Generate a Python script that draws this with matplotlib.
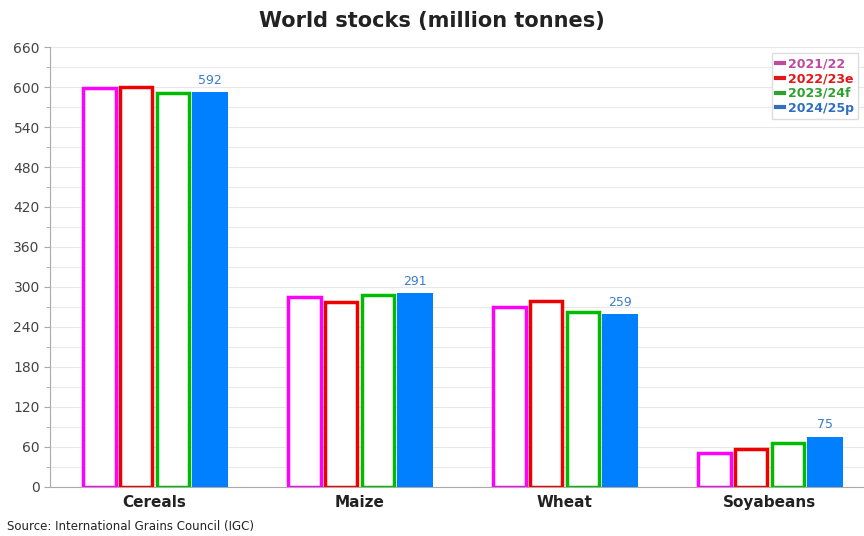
import matplotlib.pyplot as plt
import numpy as np
from matplotlib.lines import Line2D

# World stocks data (million tonnes)
categories = ['Cereals', 'Maize', 'Wheat', 'Soyabeans']
seasons = ['2021/22', '2022/23e', '2023/24f', '2024/25p']
s2122 = [598, 285, 270, 50]
s2223 = [600, 277, 279, 57]
s2324 = [591, 288, 262, 66]
s2425 = [592, 291, 259, 75]

edge_colors = ['#ff00ff', '#ee0000', '#00bb00', '#0080ff']
legend_colors = ['#c04a9c', '#e01818', '#2ea02e', '#2f6fc0']

fig = plt.figure(figsize=(8.64, 5.36), dpi=100)
ax = fig.add_axes([0.058, 0.092, 0.942, 0.82])

x = np.arange(len(categories))
w = 0.18
series = [s2122, s2223, s2324, s2425]
for i, vals in enumerate(series):
    pos = x + (i - 1.5) * w
    if i < 3:
        ax.bar(pos, vals, width=w * 0.88, facecolor='white', edgecolor=edge_colors[i],
               linewidth=2.5, zorder=3)
    else:
        bars = ax.bar(pos, vals, width=w * 0.97, color=edge_colors[i], zorder=3)
        for b, v in zip(bars, vals):
            ax.text(b.get_x() + b.get_width() / 2, v + 8, str(v), ha='center', va='bottom',
                    fontsize=9, color='#3a7cc8')

ax.set_xlim(-0.51, 3.46)
ax.set_ylim(0, 660)
ax.set_yticks(np.arange(0, 661, 60))
ax.set_yticks(np.arange(0, 661, 30), minor=True)
ax.grid(axis='y', which='both', color='#e8e8e8', linewidth=0.8, zorder=0)
ax.set_xticks(x)
ax.set_xticklabels(categories, fontsize=11, fontweight='bold', color='#222222')
ax.tick_params(axis='y', labelsize=10, labelcolor='#444444', color='#aaaaaa', length=4)
ax.tick_params(axis='y', which='minor', color='#aaaaaa', length=3)
ax.tick_params(axis='x', length=0, pad=6)
for s in ['top', 'right']:
    ax.spines[s].set_visible(False)
ax.spines['left'].set_color('#aaaaaa')
ax.spines['bottom'].set_color('#aaaaaa')

fig.text(0.5, 0.96, 'World stocks (million tonnes)', ha='center', va='center',
         fontsize=15, fontweight='bold', color='#222222')
fig.text(0.008, 0.005, 'Source: International Grains Council (IGC)', fontsize=8.5,
         color='#222222', ha='left', va='bottom')

handles = [Line2D([0], [0], color=c, linewidth=3) for c in legend_colors]
leg = ax.legend(handles, seasons, loc='upper right', bbox_to_anchor=(1.0, 1.0),
                fontsize=9, handlelength=0.7, handletextpad=0.3, labelspacing=0.15,
                borderpad=0.3, frameon=True, fancybox=False, framealpha=1)
leg.get_frame().set_edgecolor('#dddddd')
for t, c in zip(leg.get_texts(), legend_colors):
    t.set_color(c)
    t.set_fontweight('bold')

fig.savefig('out.png', dpi=100)
